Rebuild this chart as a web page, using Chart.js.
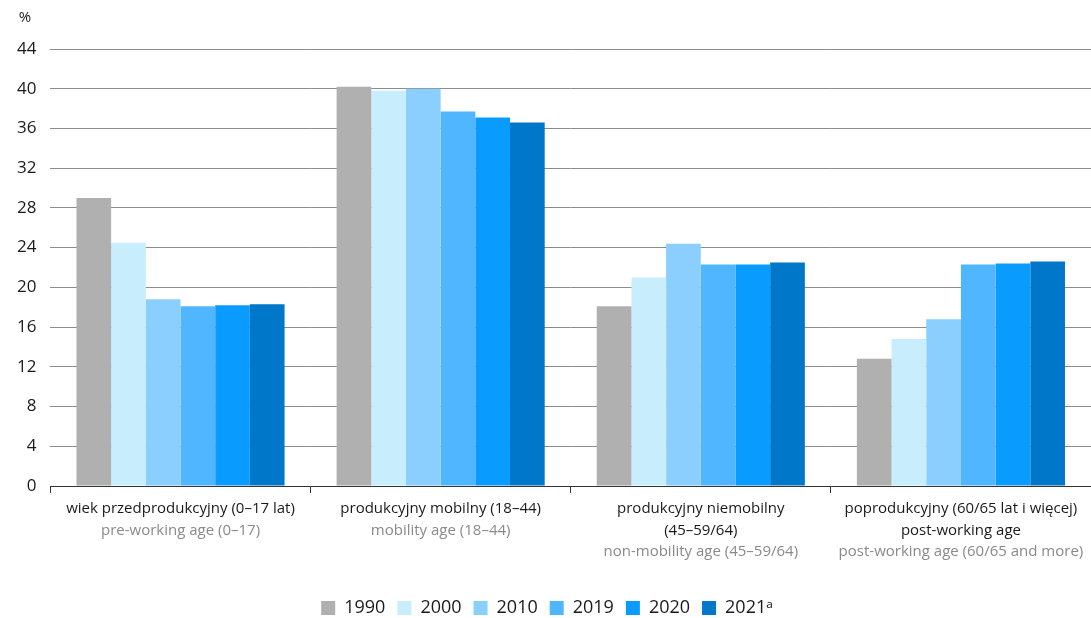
<!DOCTYPE html>
<html>
<head>
<meta charset="utf-8">
<script src="https://cdn.jsdelivr.net/npm/chart.js@4/dist/chart.umd.min.js"></script>
<style>
  html, body { margin: 0; padding: 0; background: #fff; }
  #wrap { width: 1091px; height: 618px; }
</style>
</head>
<body>
<div id="wrap"><canvas id="chart"></canvas></div>
<script>
// categories: black (Polish) lines and grey (English) lines
const groupLines = [
  ["wiek przedprodukcyjny (0–17 lat)"],
  ["produkcyjny mobilny (18–44)"],
  ["produkcyjny niemobilny", "(45–59/64)"],
  ["poprodukcyjny (60/65 lat i więcej)", "post-working age"]
];
const groupLinesEn = [
  ["pre-working age (0–17)"],
  ["mobility age (18–44)"],
  ["non-mobility age (45–59/64)"],
  ["post-working age (60/65 and more)"]
];

const years = ["1990", "2000", "2010", "2019", "2020", "2021ᵃ"];
const colors = ["#b0b0b0", "#c8eefd", "#8acfff", "#50b6ff", "#0a9bff", "#0077c8"];

const v1990 = [29.0, 40.2, 18.1, 12.8];
const v2000 = [24.5, 39.8, 21.0, 14.8];
const v2010 = [18.8, 40.0, 24.4, 16.8];
const v2019 = [18.1, 37.7, 22.3, 22.3];
const v2020 = [18.2, 37.1, 22.3, 22.4];
const v2021 = [18.3, 36.6, 22.5, 22.6];
const seriesValues = [v1990, v2000, v2010, v2019, v2020, v2021];

const yTicks = [0, 4, 8, 12, 16, 20, 24, 28, 32, 36, 40, 44];

const FONT = "'Open Sans', 'Noto Sans', sans-serif";

// draws the two-colour category labels and the % unit
const labelsPlugin = {
  id: "labels",
  afterDraw(chart) {
    const ctx = chart.ctx;
    const x = chart.scales.x;
    ctx.save();
    ctx.textAlign = "center";
    ctx.textBaseline = "middle";
    ctx.font = "15px " + FONT;
    groupLines.forEach((lines, i) => {
      const cx = x.getPixelForValue(i);
      let y = x.top + 23;
      ctx.fillStyle = "#1a1a1a";
      lines.forEach(t => { ctx.fillText(t, cx, y); y += 21.5; });
      ctx.fillStyle = "#8a8a8a";
      groupLinesEn[i].forEach(t => { ctx.fillText(t, cx, y); y += 21.5; });
    });
    ctx.fillStyle = "#1a1a1a";
    ctx.fillText("%", 25, 18);
    ctx.restore();
  }
};

new Chart(document.getElementById("chart"), {
  type: "bar",
  data: {
    labels: groupLines.map(l => l.join(" ")),
    datasets: years.map((y, i) => ({
      label: y,
      data: seriesValues[i],
      backgroundColor: colors[i],
      borderWidth: 0,
      barPercentage: 1.0,
      categoryPercentage: 0.8
    }))
  },
  options: {
    responsive: true,
    maintainAspectRatio: false,
    animation: false,
    layout: { padding: { top: 49, right: 0, left: 3, bottom: -9 } },
    plugins: {
      tooltip: { enabled: false },
      legend: {
        position: "bottom",
        labels: {
          boxWidth: 14,
          boxHeight: 14,
          padding: 12,
          color: "#1a1a1a",
          font: { family: FONT, size: 18 }
        }
      }
    },
    scales: {
      x: {
        grid: {
          offset: true,
          drawOnChartArea: false,
          drawTicks: true,
          tickLength: 7,
          color: "#333"
        },
        border: { display: true, color: "#333", width: 1 },
        ticks: { display: false },
        afterFit(scale) { scale.height = 101; }
      },
      y: {
        min: 0,
        max: 44,
        afterBuildTicks(scale) { scale.ticks = yTicks.map(v => ({ value: v })); },
        grid: { color: "#8c8c8c", lineWidth: 1, drawTicks: false },
        border: { display: false },
        ticks: {
          padding: 14,
          color: "#1a1a1a",
          font: { family: FONT, size: 17 }
        }
      }
    }
  },
  plugins: [labelsPlugin]
});
</script>
</body>
</html>
